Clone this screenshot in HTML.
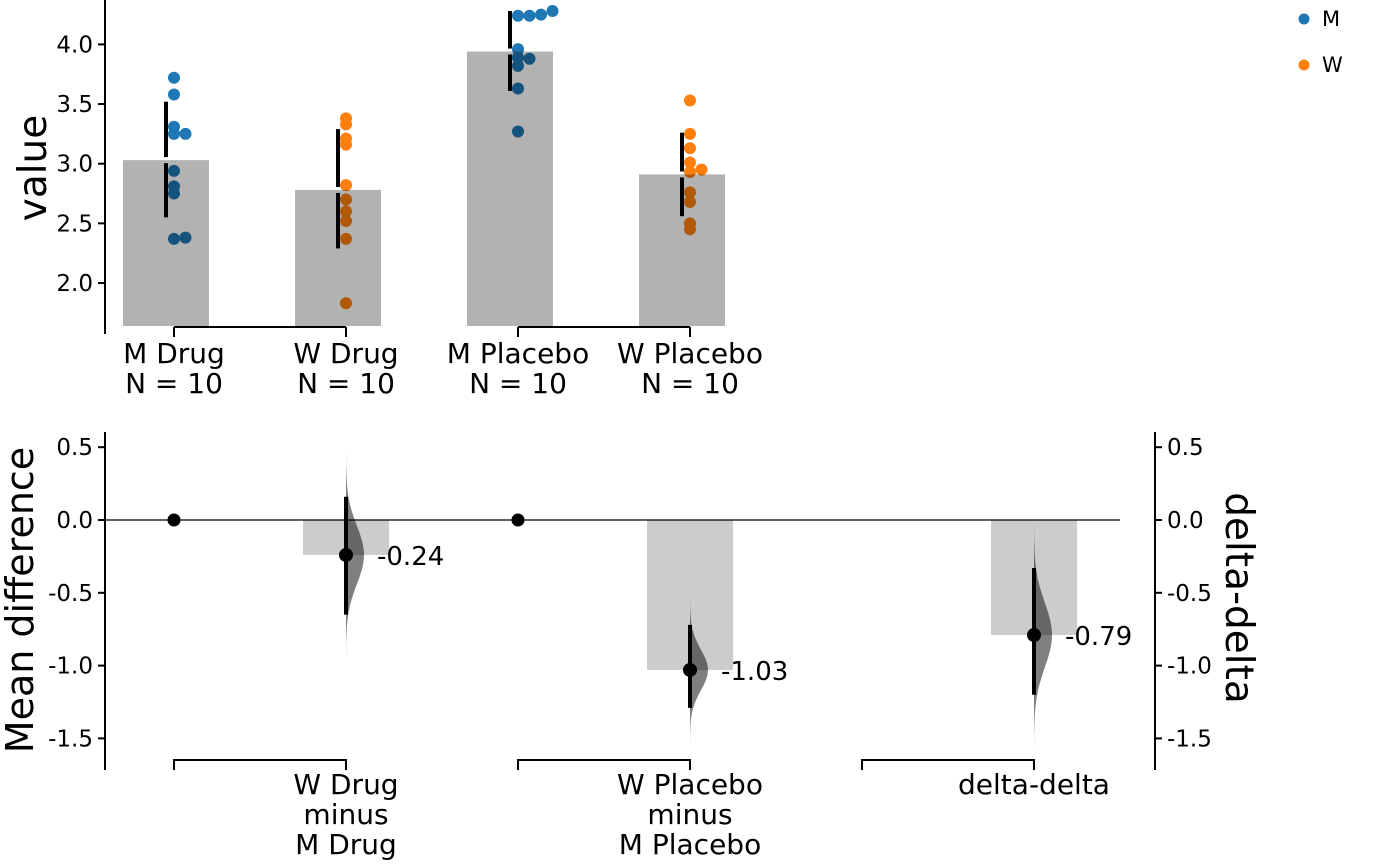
<!DOCTYPE html>
<html><head><meta charset="utf-8"><style>
body{margin:0;background:#fff;}
svg{display:block;font-family:"DejaVu Sans","Liberation Sans",sans-serif;}
</style></head><body>
<svg id="c" width="1400" height="865" viewBox="0 0 1400 865"></svg>
<script>
const groups=["M Drug","W Drug","M Placebo","W Placebo"];
const groupN=[10,10,10,10];
const groupMeans=[3.03,2.78,3.94,2.91];
const groupLo=[2.55,2.29,3.61,2.56];
const groupHi=[3.52,3.29,4.28,3.26];
const mDrug=[3.72,3.58,3.31,3.25,3.25,2.94,2.81,2.75,2.37,2.38];
const wDrug=[3.38,3.33,3.21,3.16,2.82,2.70,2.60,2.52,2.37,1.83];
const mPlacebo=[4.24,4.24,4.25,4.28,3.96,3.89,3.88,3.82,3.63,3.27];
const wPlacebo=[3.53,3.25,3.13,3.01,2.93,2.95,2.76,2.68,2.50,2.45];
const topTicks=[2.0,2.5,3.0,3.5,4.0];
const diffLabels=[["W Drug","minus","M Drug"],["W Placebo","minus","M Placebo"],["delta-delta"]];
const diffMeans=[-0.24,-1.03,-0.79];
const diffLo=[-0.65,-1.29,-1.20];
const diffHi=[0.16,-0.72,-0.33];
const diffSd=[0.2,0.14,0.22];
const botTicks=[0.5,0.0,-0.5,-1.0,-1.5];

const svg=document.getElementById('c');
const NS='http://www.w3.org/2000/svg';
function el(t,a,p){const e=document.createElementNS(NS,t);for(const k in a)e.setAttribute(k,a[k]);(p||svg).appendChild(e);return e;}
const yT=v=>283-(v-2)*119.3;
const yB=v=>520-v*145.6;
const gx=[174,346,518,690];

let e=el('line',{x1:105,y1:0,x2:105,y2:334,stroke:'#000','stroke-width':2});

topTicks.forEach(t=>{
 el('line',{x1:98,x2:105,y1:yT(t),y2:yT(t),stroke:'#000','stroke-width':2});
 const tx=el('text',{x:93,y:yT(t)+8,'text-anchor':'end','font-size':23});tx.textContent=t.toFixed(1);
 
});
e=el('text',{transform:'translate(46,168) rotate(-90)','text-anchor':'middle','font-size':39});e.textContent='value';

el('line',{x1:174,x2:346,y1:327,y2:327,stroke:'#000','stroke-width':2});
el('line',{x1:518,x2:690,y1:327,y2:327,stroke:'#000','stroke-width':2});
const pts=[mDrug,wDrug,mPlacebo,wPlacebo];
const cols=['#1f77b4','#ff7f0e','#1f77b4','#ff7f0e'];
groups.forEach((g,i)=>{
 const x=gx[i];
 el('line',{x1:x,x2:x,y1:327,y2:337,stroke:'#000','stroke-width':2});
 const t=el('text',{x:x,y:363,'text-anchor':'middle','font-size':28});
 
 el('tspan',{x:x,dy:0},t).textContent=g;
 el('tspan',{x:x,dy:30},t).textContent='N = '+groupN[i];
 const placed=[];
 pts[i].forEach(v=>{
  const y=yT(v);let dx=0;
  while(placed.some(p=>Math.abs(p[0]-dx)<11&&Math.abs(p[1]-y)<5))dx+=11.5;
  placed.push([dx,y]);
  const c=el('circle',{cx:x+dx,cy:y,r:6,fill:cols[i]});
  
 });
 const bx=x-8;
 const b=el('rect',{x:bx-43,y:yT(groupMeans[i]),width:86,height:326-yT(groupMeans[i]),fill:'#000','fill-opacity':0.3});
 
 const m=yT(groupMeans[i]);
 el('line',{x1:bx,x2:bx,y1:yT(groupHi[i]),y2:m-3,stroke:'#000','stroke-width':4});
 el('line',{x1:bx,x2:bx,y1:m+3,y2:yT(groupLo[i]),stroke:'#000','stroke-width':4});
});
[['M','#1f77b4',19],['W','#ff7f0e',65]].forEach(l=>{
 const g=el('g',{});
 el('circle',{cx:1304,cy:l[2],r:5.5,fill:l[1]},g);
 el('text',{x:1322,y:l[2]+7,'font-size':21},g).textContent=l[0];
});

e=el('line',{x1:105,y1:432,x2:105,y2:770,stroke:'#000','stroke-width':2});

e=el('line',{x1:1155,y1:432,x2:1155,y2:770,stroke:'#000','stroke-width':2});

botTicks.forEach(t=>{
 const y=yB(t),s=t.toFixed(1).replace('-0.0','0.0');
 el('line',{x1:98,x2:105,y1:y,y2:y,stroke:'#000','stroke-width':2});
 el('text',{x:93,y:y+8,'text-anchor':'end','font-size':23}).textContent=s;
 el('line',{x1:1155,x2:1162,y1:y,y2:y,stroke:'#000','stroke-width':2});
 el('text',{x:1167,y:y+8,'font-size':23}).textContent=s;
});
e=el('text',{transform:'translate(33,600) rotate(-90)','text-anchor':'middle','font-size':38});e.textContent='Mean difference';

e=el('text',{transform:'translate(1226,598) rotate(90)','text-anchor':'middle','font-size':39});e.textContent='delta-delta';

el('line',{x1:105,x2:1120,y1:yB(0),y2:yB(0),stroke:'#000','stroke-width':1.3});
[174,518].forEach(x=>{const c=el('circle',{cx:x,cy:yB(0),r:6.5,fill:'#000'});});
const dx=[346,690,1034];
diffMeans.forEach((m,i)=>{
 const x=dx[i];
 const b=el('rect',{x:x-43,y:Math.min(yB(0),yB(m)),width:86,height:Math.abs(yB(m)-yB(0)),fill:'#000','fill-opacity':0.2});
 
 const sd=diffSd[i];let d='M'+x+','+yB(m+4*sd);
 for(let k=0;k<=80;k++){const v=m+4*sd-k*8*sd/80;const w=18*Math.exp(-0.5*((v-m)/sd)**2);d+=' L'+(x+w).toFixed(1)+','+yB(v).toFixed(1);}
 d+=' Z';
 const p=el('path',{d:d,fill:'#000','fill-opacity':0.5});
 
 el('line',{x1:x,x2:x,y1:yB(diffHi[i]),y2:yB(diffLo[i]),stroke:'#000','stroke-width':4});
 const c=el('circle',{cx:x,cy:yB(m),r:7,fill:'#000'});
 
 const t=el('text',{x:x+31,y:yB(m)+10,'font-size':26});t.textContent=m.toFixed(2);
 
 el('path',{d:`M${x-172},770 L${x-172},760 L${x},760 L${x},770`,fill:'none',stroke:'#000','stroke-width':2});
 const lt=el('text',{x:x,y:794,'text-anchor':'middle','font-size':28});
 
 diffLabels[i].forEach((s,j)=>{el('tspan',{x:x,dy:j?30:0},lt).textContent=s;});
});
</script>
</body></html>
